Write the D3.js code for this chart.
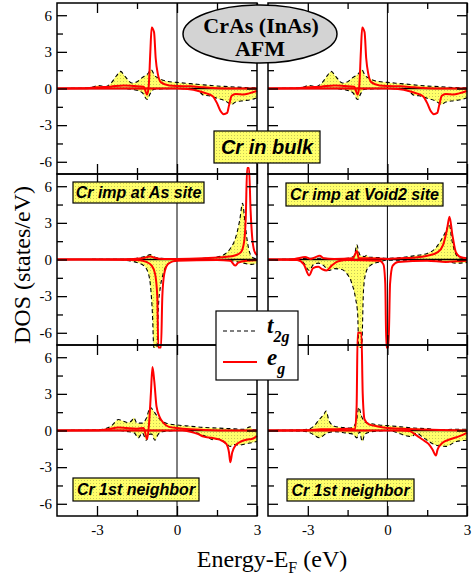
<!DOCTYPE html>
<html>
<head>
<meta charset="utf-8">
<script src="https://cdn.jsdelivr.net/npm/d3@7"></script>
<style>
  body { margin: 0; background: #fff; }
  svg { display: block; }
</style>
</head>
<body>
<script>
// DOS curves, [energy (eV), DOS (states/eV)], spin down negative
var bulkT2gUp = [[-4.5,0],[-3.6,0.02],[-3.2,0.1],[-2.95,0.25],[-2.7,0.15],[-2.45,0.5],[-2.25,1.1],[-2.12,1.4],[-1.95,1.0],[-1.7,0.45],[-1.55,0.5],[-1.3,0.9],[-1.1,1.2],[-0.97,1.55],[-0.85,1.1],[-0.65,0.8],[-0.4,0.6],[0,0.5],[0.5,0.4],[1.0,0.3],[1.5,0.2],[2.0,0.15],[2.5,0.08],[3,0.05]];
var bulkT2gDn = [[-4.5,0],[-2.0,0],[-1.6,-0.1],[-1.3,-0.35],[-1.12,-0.9],[-1.0,-0.4],[-0.85,-0.05],[0,0],[0.5,-0.05],[0.8,-0.2],[1.0,-0.55],[1.2,-0.6],[1.5,-0.8],[1.8,-1.0],[2.05,-1.3],[2.2,-1.1],[2.5,-1.0],[2.8,-0.9],[3,-0.75]];
var bulkEgUp = [[-4.5,0],[-3.5,0.02],[-3.0,0.1],[-2.5,0.15],[-2.0,0.25],[-1.6,0.2],[-1.25,0.15],[-1.12,-0.5],[-1.06,0.2],[-1.0,3.0],[-0.95,5.0],[-0.86,4.6],[-0.8,2.5],[-0.72,1.2],[-0.6,0.5],[-0.3,0.25],[0,0.2],[0.5,0.18],[1.0,0.1],[1.5,0.03],[2.0,0],[3,0]];
var bulkEgDn = [[-4.5,0],[0,0],[0.4,-0.05],[0.8,-0.2],[1.1,-0.4],[1.35,-0.65],[1.5,-1.2],[1.62,-1.8],[1.75,-2.1],[1.88,-2.0],[1.95,-1.4],[2.05,-0.6],[2.2,-0.45],[2.5,-0.5],[2.7,-0.4],[3,-0.2]];

var asT2gUp = [[-4.5,0],[-2.0,0.02],[-1.5,0.1],[-1.2,0.25],[-1.0,0.4],[-0.85,0.2],[-0.6,0.1],[0,0.05],[1.0,0.1],[1.5,0.2],[1.8,0.45],[2.0,0.9],[2.2,1.8],[2.35,3.2],[2.46,4.6],[2.55,3.0],[2.63,1.6],[2.72,0.6],[2.85,0.15],[3,0.05]];
var asT2gDn = [[-4.5,0],[-2.2,0],[-1.8,-0.1],[-1.5,-0.25],[-1.25,-0.5],[-1.08,-1.1],[-0.98,-2.5],[-0.92,-4.5],[-0.87,-7.2],[-0.75,-7.2],[-0.7,-4],[-0.62,-2.2],[-0.52,-1.2],[-0.4,-0.5],[-0.2,-0.2],[0,-0.1],[1.0,-0.05],[2.0,-0.1],[2.3,-0.2],[2.6,-0.35],[2.8,-0.4],[3,-0.3]];
var asEgUp = [[-4.5,0],[-2,0.02],[-1.3,0.1],[-1.0,0.25],[-0.85,0.15],[-0.5,0.05],[0,0.05],[1.0,0.1],[1.8,0.2],[2.2,0.35],[2.4,0.6],[2.52,1.5],[2.58,3.5],[2.63,7.5],[2.7,7.5],[2.76,4.0],[2.82,1.8],[2.9,0.7],[3,0.35]];
var asEgDn = [[-4.5,0],[-1.5,-0.05],[-1.15,-0.2],[-0.95,-0.5],[-0.82,-1.2],[-0.74,-3],[-0.7,-7.2],[-0.6,-7.2],[-0.55,-3],[-0.48,-1.2],[-0.35,-0.4],[-0.15,-0.15],[0,-0.1],[1.5,-0.05],[2.0,-0.1],[2.18,-0.5],[2.3,-0.25],[2.6,-0.1],[3,-0.05]];

var v2T2gUp = [[-4.5,0],[-3.5,0.02],[-3.0,0.1],[-2.5,0.1],[-2.0,0.05],[-1.5,0.1],[-1.25,0.3],[-1.15,1.2],[-1.08,0.6],[-1.0,0.3],[-0.85,0.25],[-0.78,0.35],[-0.7,0.2],[-0.3,0.15],[0,0.1],[0.5,0.15],[1.0,0.3],[1.5,0.5],[1.8,0.9],[2.0,1.5],[2.2,2.3],[2.33,2.9],[2.43,1.6],[2.55,0.6],[2.7,0.15],[3,0.05]];
var v2T2gDn = [[-4.5,0],[-3.4,-0.05],[-3.15,-0.3],[-2.95,-0.9],[-2.8,-0.45],[-2.6,-0.3],[-2.4,-0.5],[-2.2,-0.9],[-2.0,-0.75],[-1.75,-0.8],[-1.55,-1.1],[-1.35,-1.9],[-1.2,-3.2],[-1.12,-4.5],[-1.08,-7.2],[-0.97,-7.2],[-0.9,-2.5],[-0.8,-1.0],[-0.65,-0.5],[-0.3,-0.2],[0,-0.05],[1.0,-0.05],[2.0,-0.1],[2.3,-0.2],[2.6,-0.3],[3,-0.25]];
var v2EgUp = [[-4.5,0],[-3.5,0.05],[-3.1,0.2],[-2.9,0.05],[-2.55,0.3],[-2.4,0.1],[-2.0,0.05],[-1.3,0.1],[-1.15,0.7],[-1.08,0.1],[-0.8,0.1],[0,0.05],[0.5,0.1],[1.0,0.15],[1.5,0.3],[1.9,0.6],[2.1,1.2],[2.25,2.5],[2.34,3.5],[2.45,2.0],[2.58,0.6],[2.75,0.2],[3,0.1]];
var v2EgDn = [[-4.5,0],[-3.4,-0.05],[-3.15,-0.4],[-2.95,-1.3],[-2.8,-0.7],[-2.6,-0.6],[-2.45,-0.8],[-2.3,-0.9],[-2.1,-0.5],[-1.85,-0.15],[-1.5,-0.05],[-0.3,-0.1],[-0.15,-0.4],[-0.08,-2],[-0.04,-7.2],[0.04,-7.2],[0.1,-2],[0.2,-0.5],[0.4,-0.2],[1.5,-0.1],[2.2,-0.2],[2.6,-0.15],[3,-0.1]];

var n1T2gUp = [[-4.5,0],[-3.5,0.02],[-3.0,0.05],[-2.7,0.15],[-2.45,0.4],[-2.2,0.9],[-2.0,0.75],[-1.85,0.65],[-1.7,0.8],[-1.62,1.05],[-1.5,0.6],[-1.3,0.6],[-1.15,1.0],[-1.0,1.9],[-0.88,1.6],[-0.75,1.2],[-0.6,0.85],[-0.4,0.6],[0,0.45],[0.5,0.35],[1.0,0.25],[1.5,0.2],[2.0,0.15],[2.5,0.1],[2.75,0.3],[2.85,0.05],[3,0.05]];
var n1T2gDn = [[-4.5,0],[-2.2,0],[-1.8,-0.1],[-1.6,-0.2],[-1.45,-0.6],[-1.3,-0.2],[-1.15,-0.8],[-1.02,-0.3],[-0.95,-0.3],[-0.83,-0.8],[-0.7,-0.3],[-0.55,-0.1],[0,0],[0.6,-0.05],[0.85,-0.3],[1.1,-0.5],[1.35,-0.75],[1.6,-0.7],[1.8,-1.0],[2.0,-1.3],[2.15,-1.15],[2.35,-1.2],[2.55,-1.1],[2.8,-1.0],[3,-0.9]];
var n1EgUp = [[-4.5,0],[-3.0,0.02],[-2.6,0.1],[-2.2,0.25],[-1.9,0.2],[-1.5,0.15],[-1.25,0.2],[-1.12,-0.7],[-1.05,0.5],[-0.98,3.0],[-0.92,5.2],[-0.85,4.0],[-0.77,2.0],[-0.65,1.1],[-0.5,0.6],[-0.3,0.3],[0,0.2],[0.5,0.1],[1.0,0.05],[2.0,0],[3,0]];
var n1EgDn = [[-4.5,0],[0.2,0],[0.5,-0.1],[0.8,-0.3],[1.0,-0.5],[1.3,-0.6],[1.6,-0.75],[1.85,-1.1],[1.95,-1.8],[2.0,-2.6],[2.07,-1.8],[2.2,-1.2],[2.4,-0.9],[2.6,-0.75],[2.8,-0.7],[3,-0.45]];

var n2T2gUp = [[-4.5,0],[-3.5,0.03],[-3.0,0.1],[-2.75,0.4],[-2.57,0.9],[-2.4,1.3],[-2.31,1.6],[-2.2,0.8],[-2.0,0.35],[-1.7,0.25],[-1.43,0.2],[-1.25,0.4],[-1.15,1.0],[-1.08,1.9],[-0.98,1.2],[-0.85,0.7],[-0.6,0.55],[-0.3,0.45],[0,0.4],[0.5,0.3],[1.0,0.2],[1.5,0.15],[2.0,0.05],[2.5,0.1],[3,0.1]];
var n2T2gDn = [[-4.5,0],[-3.2,-0.05],[-2.9,-0.2],[-2.55,-0.6],[-2.35,-0.3],[-2.0,-0.1],[-1.6,-0.2],[-1.3,-0.3],[-1.15,-0.6],[-1.05,-0.1],[-0.95,-0.9],[-0.85,-0.3],[-0.6,-0.1],[0,0],[0.4,-0.2],[0.58,-0.35],[0.9,-0.5],[1.1,-0.2],[1.3,-0.5],[1.57,-0.9],[1.83,-1.2],[2.2,-1.3],[2.6,-0.9],[3,-0.8]];
var n2EgUp = [[-4.5,0],[-3,0.02],[-2.5,0.1],[-2,0.1],[-1.5,0.15],[-1.22,0.1],[-1.16,2.0],[-1.12,8.0],[-0.98,8.0],[-0.93,3.0],[-0.86,0.9],[-0.7,0.5],[-0.4,0.35],[0,0.2],[1,0.1],[2,0.05],[3,0]];
var n2EgDn = [[-4.5,0],[0.5,0],[0.83,-0.05],[1.1,-0.4],[1.32,-0.74],[1.55,-1.1],[1.7,-1.56],[1.83,-2.05],[1.89,-1.56],[2.08,-1.0],[2.34,-0.74],[2.72,-0.46],[3,-0.2]];

var xMajor = [-3, 0, 3], xMinor = [-1.5, 1.5];
var xTickLabels = ["-3", "0", "3"];
var yMajor = [-6, -3, 0, 3, 6], yMinor = [-4.5, -1.5, 1.5, 4.5];
var yTickLabels = ["-6", "-3", "0", "3", "6"];
var panelLabels = ["Cr imp at As site", "Cr imp at Void2 site", "Cr 1st neighbor", "Cr 1st neighbor"];

var width = 472, height = 577;
var serif = "'Liberation Serif', 'Times New Roman', serif";
var sans = "'Liberation Sans', Arial, sans-serif";

var svg = d3.select("body").append("svg")
    .attr("width", width)
    .attr("height", height);

// dotted yellow fill like the grace pattern
var pat = svg.append("defs").append("pattern")
    .attr("id", "dots")
    .attr("width", 3).attr("height", 3)
    .attr("patternUnits", "userSpaceOnUse");
pat.append("rect").attr("width", 3).attr("height", 3).attr("fill", "#ffff6a");
pat.append("rect").attr("width", 1).attr("height", 1).attr("fill", "#c9c95a");

var cols = [[57, 257], [268, 467]];
var rows = [[3, 174], [174, 345], [345, 516]];

var panels = [
    {col: 0, row: 0, t2gUp: bulkT2gUp, t2gDn: bulkT2gDn, egUp: bulkEgUp, egDn: bulkEgDn},
    {col: 1, row: 0, t2gUp: bulkT2gUp, t2gDn: bulkT2gDn, egUp: bulkEgUp, egDn: bulkEgDn},
    {col: 0, row: 1, t2gUp: asT2gUp, t2gDn: asT2gDn, egUp: asEgUp, egDn: asEgDn},
    {col: 1, row: 1, t2gUp: v2T2gUp, t2gDn: v2T2gDn, egUp: v2EgUp, egDn: v2EgDn},
    {col: 0, row: 2, t2gUp: n1T2gUp, t2gDn: n1T2gDn, egUp: n1EgUp, egDn: n1EgDn},
    {col: 1, row: 2, t2gUp: n2T2gUp, t2gDn: n2T2gDn, egUp: n2EgUp, egDn: n2EgDn}
];

panels.forEach(function(p){
    var x = d3.scaleLinear().domain([-4.5, 3]).range(cols[p.col]);
    var y = d3.scaleLinear().domain([-7, 7]).range([rows[p.row][1], rows[p.row][0]]);
    var g = svg.append("g");

    var area = d3.area()
        .x(function(d){ return x(d[0]); })
        .y0(y(0))
        .y1(function(d){ return y(d[1]); })
        .curve(d3.curveMonotoneX);
    var line = d3.line()
        .x(function(d){ return x(d[0]); })
        .y(function(d){ return y(d[1]); })
        .curve(d3.curveMonotoneX);

    [p.t2gUp, p.t2gDn].forEach(function(s){
        g.append("path").attr("d", area(s)).attr("fill", "url(#dots)").attr("stroke", "none");
    });

    // zero lines
    g.append("line")
        .attr("x1", x(0)).attr("x2", x(0))
        .attr("y1", y.range()[0]).attr("y2", y.range()[1])
        .attr("stroke", "#000").attr("stroke-width", 1);
    g.append("line")
        .attr("x1", x.range()[0]).attr("x2", x.range()[1])
        .attr("y1", y(0)).attr("y2", y(0))
        .attr("stroke", "#000").attr("stroke-width", 1.6);

    [p.t2gUp, p.t2gDn].forEach(function(s){
        g.append("path").attr("d", line(s))
            .attr("fill", "none").attr("stroke", "#000")
            .attr("stroke-width", 1.1).attr("stroke-dasharray", "4,3");
    });
    [p.egUp, p.egDn].forEach(function(s){
        g.append("path").attr("d", line(s))
            .attr("fill", "none").attr("stroke", "#ff0000")
            .attr("stroke-width", 2).attr("stroke-linejoin", "round");
    });

    // ticks on all four sides, pointing inward
    function ticks(axis, tx, ty){
        var a = g.append("g").attr("transform", "translate(" + tx + "," + ty + ")").call(axis);
        a.select(".domain").remove();
        a.selectAll("line").attr("stroke", "#000").attr("stroke-width", 1.3);
        a.selectAll("text").attr("font-family", serif).attr("font-size", 15).attr("fill", "#000");
        return a;
    }
    var x0 = x.range()[0], x1 = x.range()[1], yb = y.range()[0], yt = y.range()[1];

    ticks(d3.axisLeft(y).tickValues(yMajor).tickSize(-10).tickPadding(5)
        .tickFormat(function(d, i){ return p.col === 0 ? yTickLabels[i] : ""; }), x0, 0);
    ticks(d3.axisLeft(y).tickValues(yMinor).tickSize(-6).tickFormat(""), x0, 0);
    ticks(d3.axisRight(y).tickValues(yMajor).tickSize(-10).tickFormat(""), x1, 0);
    ticks(d3.axisRight(y).tickValues(yMinor).tickSize(-6).tickFormat(""), x1, 0);
    ticks(d3.axisBottom(x).tickValues(xMajor).tickSize(-10).tickPadding(8)
        .tickFormat(function(d, i){ return p.row === 2 ? xTickLabels[i] : ""; }), 0, yb);
    ticks(d3.axisBottom(x).tickValues(xMinor).tickSize(-6).tickFormat(""), 0, yb);
    ticks(d3.axisTop(x).tickValues(xMajor).tickSize(-10).tickFormat(""), 0, yt);
    ticks(d3.axisTop(x).tickValues(xMinor).tickSize(-6).tickFormat(""), 0, yt);

    g.append("rect")
        .attr("x", x0).attr("y", yt)
        .attr("width", x1 - x0).attr("height", yb - yt)
        .attr("fill", "none").attr("stroke", "#000").attr("stroke-width", 1.5);
});

// axis titles
svg.append("text")
    .attr("transform", "translate(30,265) rotate(-90)")
    .attr("text-anchor", "middle")
    .attr("font-family", serif).attr("font-size", 24)
    .text("DOS (states/eV)");

var xt = svg.append("text")
    .attr("x", 272).attr("y", 567)
    .attr("text-anchor", "middle")
    .attr("font-family", serif).attr("font-size", 24);
xt.append("tspan").text("Energy-E");
xt.append("tspan").attr("font-size", 16).attr("dy", 6).text("F");
xt.append("tspan").attr("dy", -6).text(" (eV)");

// site labels
function tag(x, y, w, h, txt, size){
    svg.append("rect")
        .attr("x", x).attr("y", y).attr("width", w).attr("height", h)
        .attr("fill", "url(#dots)").attr("stroke", "#000").attr("stroke-width", 1.2);
    svg.append("text")
        .attr("x", x + w / 2).attr("y", y + h / 2)
        .attr("dy", "0.36em")
        .attr("text-anchor", "middle")
        .attr("font-family", sans).attr("font-weight", "bold").attr("font-style", "italic")
        .attr("font-size", size)
        .text(txt);
}
tag(73, 182, 131, 21, panelLabels[0], 16);
tag(286, 183, 157, 23, panelLabels[1], 16);
tag(73, 478, 126, 23, panelLabels[2], 16);
tag(287, 479, 127, 22, panelLabels[3], 16);

// title bubble, two lines
svg.append("ellipse")
    .attr("cx", 260).attr("cy", 34).attr("rx", 77).attr("ry", 29)
    .attr("fill", "#d3d3d3").attr("stroke", "#000").attr("stroke-width", 1.5);
svg.append("text")
    .attr("x", 261).attr("y", 33).attr("text-anchor", "middle")
    .attr("font-family", serif).attr("font-weight", "bold").attr("font-size", 22)
    .text("CrAs (InAs)");
svg.append("text")
    .attr("x", 260).attr("y", 56).attr("text-anchor", "middle")
    .attr("font-family", serif).attr("font-weight", "bold").attr("font-size", 22)
    .text("AFM");

tag(214, 131, 106, 32, "Cr in bulk", 20);

// legend
var lg = svg.append("g");
lg.append("rect")
    .attr("x", 216).attr("y", 311).attr("width", 82).attr("height", 69)
    .attr("fill", "#fff").attr("stroke", "#000").attr("stroke-width", 1.2);
lg.append("line")
    .attr("x1", 223).attr("x2", 256).attr("y1", 331).attr("y2", 331)
    .attr("stroke", "#000").attr("stroke-width", 1.1).attr("stroke-dasharray", "4,3");
lg.append("line")
    .attr("x1", 223).attr("x2", 257).attr("y1", 362).attr("y2", 362)
    .attr("stroke", "#ff0000").attr("stroke-width", 2);
var t1 = lg.append("text")
    .attr("x", 267).attr("y", 333)
    .attr("font-family", serif).attr("font-weight", "bold").attr("font-style", "italic")
    .attr("font-size", 23);
t1.append("tspan").text("t");
t1.append("tspan").attr("font-size", 16).attr("dy", 9).text("2g");
var t2 = lg.append("text")
    .attr("x", 267).attr("y", 365)
    .attr("font-family", serif).attr("font-weight", "bold").attr("font-style", "italic")
    .attr("font-size", 23);
t2.append("tspan").text("e");
t2.append("tspan").attr("font-size", 16).attr("dy", 9).text("g");
</script>
</body>
</html>
